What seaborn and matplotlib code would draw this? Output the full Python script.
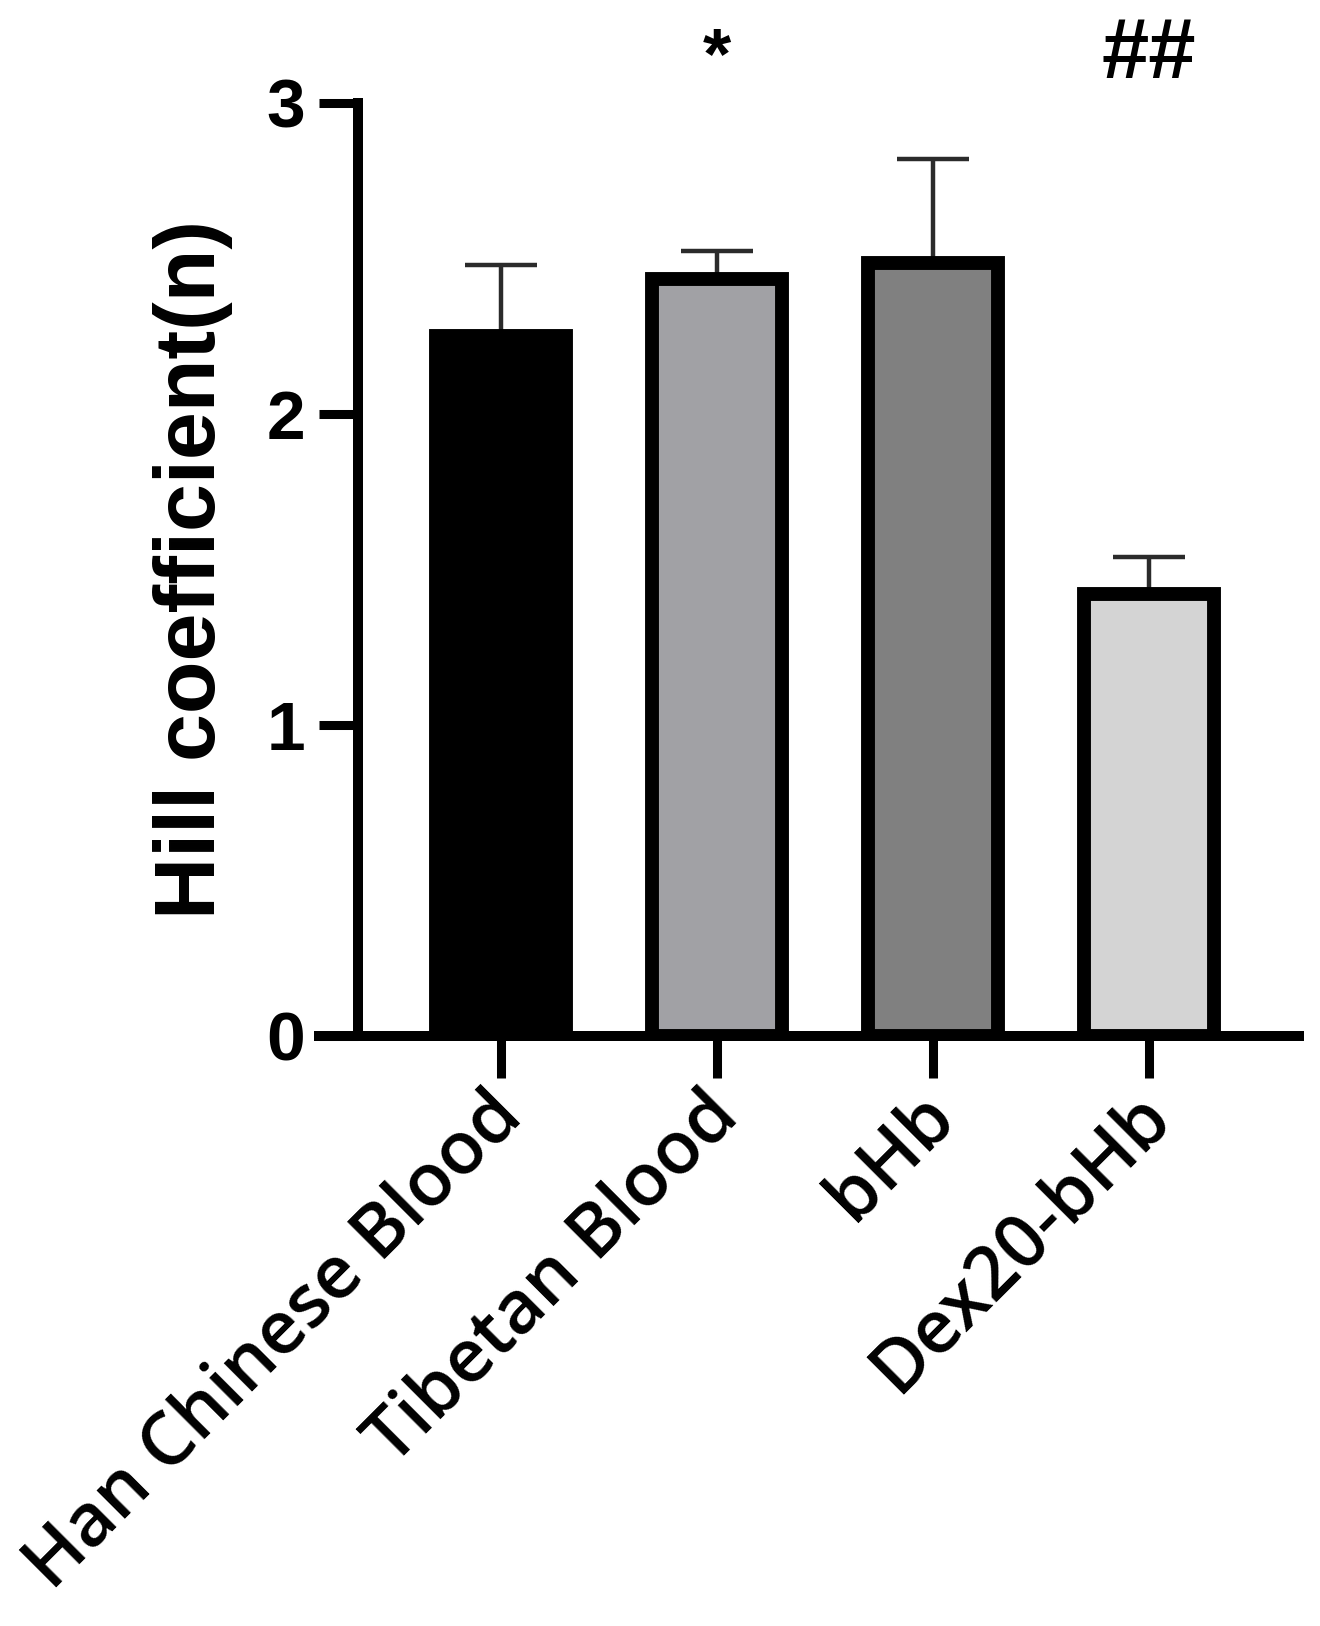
import matplotlib
matplotlib.use("Agg")
import matplotlib.pyplot as plt
import matplotlib.transforms as mtransforms
import seaborn as sns
import pandas as pd
import numpy as np

# ---- data ----
categories = ["Han Chinese Blood", "Tibetan Blood", "bHb", "Dex20-bHb"]
means = [2.25, 2.435, 2.485, 1.42]
sem_upper = [0.23, 0.09, 0.335, 0.12]
bar_colors = ["#000000", "#a1a1a5", "#808080", "#d4d4d4"]
y_ticks = [0, 1, 2, 3]
annotations = ["", "*", "", "##"]
annotation_sizes = [52, 52, 52, 61]

sns.set_theme(style="white")
plt.rcParams["font.family"] = ["Liberation Sans", "DejaVu Sans"]
plt.rcParams["font.weight"] = "bold"
for k in ["text.color", "axes.labelcolor", "xtick.color", "ytick.color"]:
    plt.rcParams[k] = "black"

fig = plt.figure(figsize=(13.2, 16.26), dpi=100)
ax = fig.add_axes([0.2417, 0.3629, 0.7424, 0.5738])

df = pd.DataFrame({"group": categories, "value": means})
sns.barplot(data=df, x="group", y="value", hue="group", palette=bar_colors,
            order=categories, hue_order=categories, errorbar=None,
            width=0.6, edgecolor="black", linewidth=10, legend=False,
            saturation=1, ax=ax, zorder=2)

x_pos = np.arange(len(categories))
ax.errorbar(x_pos, means, yerr=[np.zeros(len(means)), sem_upper], fmt="none",
            ecolor="#2b2b2b", elinewidth=3.2, capsize=26, capthick=3.2,
            zorder=1)

ax.spines["top"].set_visible(False)
ax.spines["right"].set_visible(False)
ax.spines["left"].set_position(("data", -0.664))
ax.spines["left"].set_bounds(0, 3)
for s in ["left", "bottom"]:
    ax.spines[s].set_linewidth(7.2)
    ax.spines[s].set_color("black")
    ax.spines[s].set_capstyle("projecting")

ax.set_xlim(-0.843, 3.694)
ax.set_ylim(0, 3)
ax.set_yticks(y_ticks)
ax.set_yticklabels([str(t) for t in y_ticks])
ax.tick_params(axis="y", direction="out", length=28, width=6.5, color="black",
               pad=10, left=True, labelsize=50, labelcolor="black")
for lab in ax.get_yticklabels():
    lab.set_fontweight("bold")

ax.set_xticks(x_pos)
ax.set_xticklabels(categories, rotation=45, ha="right", va="center",
                   rotation_mode="anchor", fontsize=53, fontweight=600,
                   family=["Open Sans", "DejaVu Sans"], color="black")
ax.tick_params(axis="x", direction="out", length=30, width=6.5, color="black",
               pad=20, bottom=True)
offset = mtransforms.ScaledTranslation(10 / 100, 0, fig.dpi_scale_trans)
for lab in ax.get_xticklabels():
    lab.set_transform(lab.get_transform() + offset)

ax.set_xlabel("")
ax.set_ylabel("Hill coefficient(n)", fontsize=62, fontweight="bold",
              labelpad=24, color="black")

for i, a in enumerate(annotations):
    if a:
        ax.text(x_pos[i], 3.08, a, ha="center", va="baseline",
                fontsize=annotation_sizes[i], fontweight="bold",
                color="black", clip_on=False)

fig.savefig("out.png", dpi=100, facecolor="white")
